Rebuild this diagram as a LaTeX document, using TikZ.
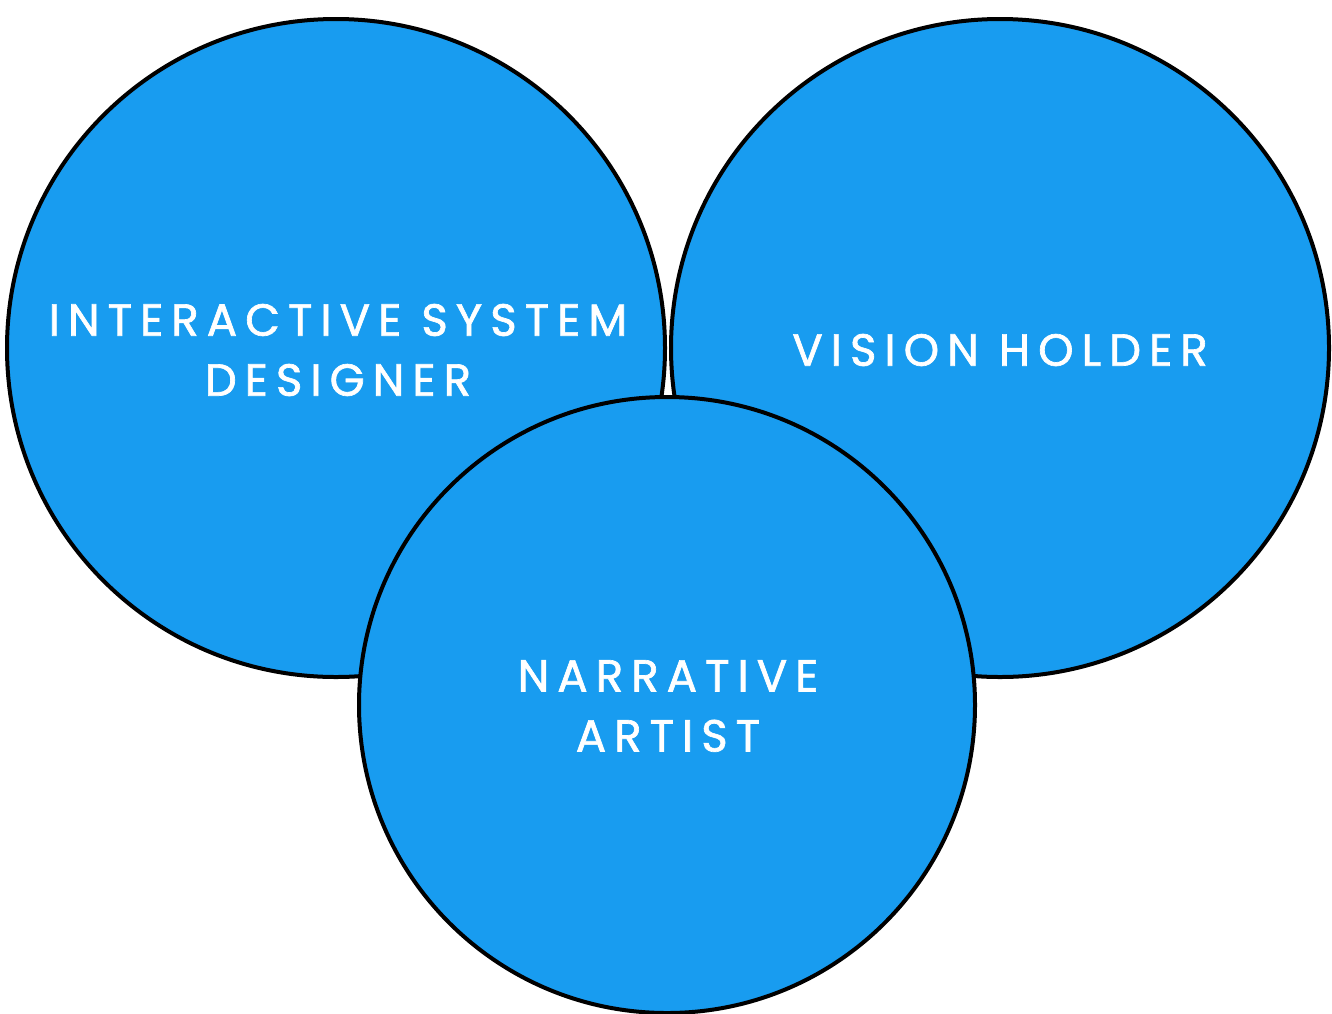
\documentclass[tikz,border=0pt]{standalone}
\usepackage{fontspec}
\setmainfont{Poppins}
\newfontfamily\labelfont[LetterSpace=18,FakeBold=1.5]{Poppins}
\definecolor{circblue}{RGB}{24,156,240}
\begin{document}
\begin{tikzpicture}[x=1pt,y=-1pt,
  bubble/.style={circle,draw=black,line width=4pt,fill=circblue,inner sep=0pt},
  lbl/.style={text=white,font=\labelfont\fontsize{45}{60}\selectfont,align=center}]
\useasboundingbox (0,0) rectangle (1332,1013);
\node[bubble,minimum size=658pt] (left) at (336,348) {};
\node[bubble,minimum size=658pt] (right) at (1000,348) {};
\node[bubble,minimum size=616pt] (bottom) at (667,705) {};
\node[lbl] (tleft) at (338,350) {INTERACTIVE SYSTEM\\DESIGNER};
\node[lbl] (tright) at (1000,350) {VISION HOLDER};
\node[lbl] (tbottom) at (668,706) {NARRATIVE\\ARTIST};
\end{tikzpicture}
\end{document}
